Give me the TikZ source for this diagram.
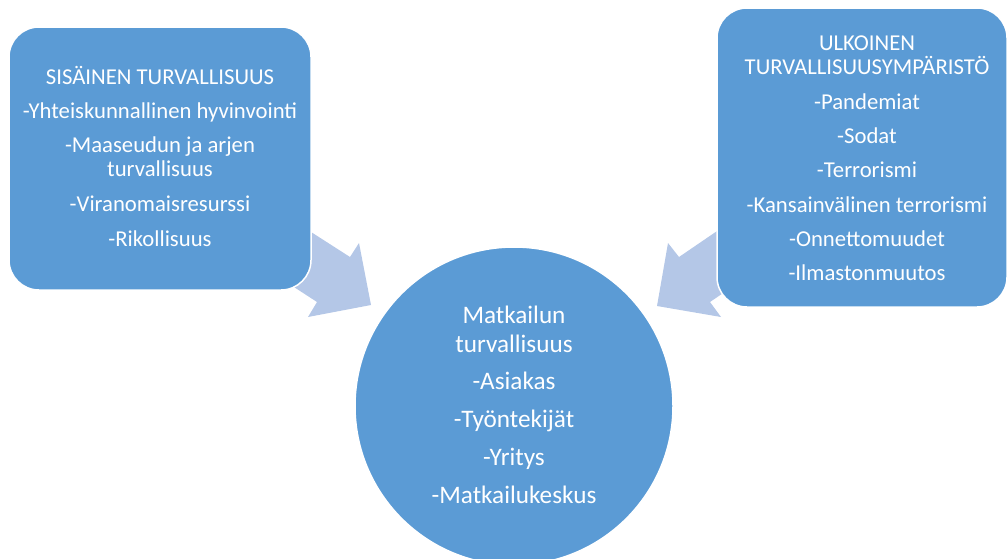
\documentclass[tikz,border=0pt]{standalone}
\usepackage{fontspec}
\setmainfont{Carlito}
\definecolor{boxblue}{RGB}{91,155,213}
\definecolor{arrowblue}{RGB}{180,199,231}
\begin{document}
\begin{tikzpicture}[x=1pt,y=-1pt,
  panel/.style={fill=boxblue,draw=white,line width=1.5pt,rounded corners=30pt},
  blockarrow/.style={fill=arrowblue,draw=none},
  boxtxt/.style={anchor=base,inner sep=0pt,text=white,font=\fontsize{22.7}{24}\selectfont},
  circtxt/.style={anchor=base,inner sep=0pt,text=white,font=\fontsize{25.2}{29}\selectfont}]
\useasboundingbox (0,0) rectangle (1008,558);
\begin{scope}
\clip (0,0) rectangle (1008,558);
% block arrows
\path[blockarrow] (283,214) -- (350,257) -- (359,243) -- (371,305) -- (308,317) -- (317,302) -- (257,263) -- cycle;
\path[blockarrow] (742,214) -- (679,257) -- (668,243) -- (657,306) -- (721,317) -- (710,302) -- (760,268) -- cycle;
% panels
\node[panel,minimum width=302pt,minimum height=263pt,inner sep=0pt] (inner) at (160,158.5) {};
\node[panel,minimum width=290pt,minimum height=299pt,inner sep=0pt] (outer) at (862,157.5) {};
\node[circle,fill=boxblue,draw=white,line width=1.5pt,minimum size=318pt,inner sep=0pt] (core) at (514,406) {};
\end{scope}
% left panel text
\node[boxtxt] (l1) at (160,84) {SISÄINEN TURVALLISUUS};
\node[boxtxt] (l2) at (160,118) {-Yhteiskunnallinen hyvinvointi};
\node[boxtxt] (l3) at (160,152) {-Maaseudun ja arjen};
\node[boxtxt] (l4) at (160,176.5) {turvallisuus};
\node[boxtxt] (l5) at (160,211.5) {-Viranomaisresurssi};
\node[boxtxt] (l6) at (160,246) {-Rikollisuus};
% right panel text
\node[boxtxt] (r1) at (867,50) {ULKOINEN};
\node[boxtxt] (r2) at (867,74) {TURVALLISUUSYMPÄRISTÖ};
\node[boxtxt] (r3) at (867,109) {-Pandemiat};
\node[boxtxt] (r4) at (867,143) {-Sodat};
\node[boxtxt] (r5) at (867,177) {-Terrorismi};
\node[boxtxt] (r6) at (867,212) {-Kansainvälinen terrorismi};
\node[boxtxt] (r7) at (867,246) {-Onnettomuudet};
\node[boxtxt] (r8) at (867,280) {-Ilmastonmuutos};
% circle text
\node[circtxt] (c1) at (514,323.5) {Matkailun};
\node[circtxt] (c2) at (514,352) {turvallisuus};
\node[circtxt] (c3) at (514,389.5) {-Asiakas};
\node[circtxt] (c4) at (514,427.5) {-Työntekijät};
\node[circtxt] (c5) at (514,465.5) {-Yritys};
\node[circtxt] (c6) at (514,503.5) {-Matkailukeskus};
\end{tikzpicture}
\end{document}
